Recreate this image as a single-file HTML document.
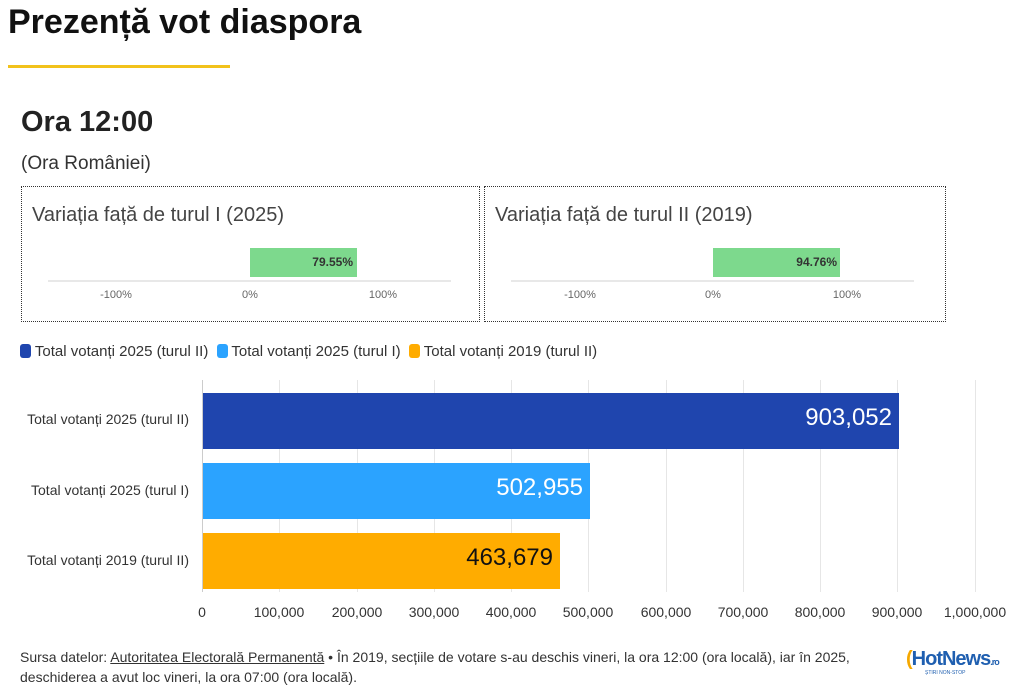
<!DOCTYPE html>
<html><head><meta charset="utf-8"><style>
body{margin:0;width:1024px;height:689px;background:#fff;position:relative;overflow:hidden;font-family:"Liberation Sans",sans-serif;color:#222}
.a{position:absolute;white-space:nowrap}
.n{font-family:"Liberation Sans Narrow","Liberation Sans",sans-serif}
.box{position:absolute;border:1px dotted #333;top:186px;height:134px}
.tk{position:absolute;font-size:11px;color:#666;transform:translateX(-50%)}
.grid{position:absolute;top:380px;width:1px;height:212px;background:#e6e6e6}
.xl{position:absolute;top:604px;font-size:14px;color:#333;transform:translateX(-50%)}
</style></head><body>
<div class="a" style="left:8px;top:3px;font-size:34px;font-weight:bold;color:#111">Prezență vot diaspora</div>
<div class="a" style="left:8px;top:65px;width:222px;height:3px;background:#f2c21b"></div>
<div class="a n" style="left:21px;top:106px;font-size:29px;font-weight:bold;color:#222">Ora 12:00</div>
<div class="a n" style="left:21px;top:153px;font-size:19px;color:#333">(Ora României)</div>

<div class="box" style="left:21px;width:457px"></div>
<div class="box" style="left:484px;width:460px"></div>
<div class="a" style="left:32px;top:204px;font-size:20px;color:#444">Variația față de turul I (2025)</div>
<div class="a" style="left:495px;top:204px;font-size:20px;color:#444">Variația față de turul II (2019)</div>
<div class="a" style="left:48px;top:280px;width:403px;height:2px;background:#e8e8e8"></div>
<div class="a" style="left:511px;top:280px;width:403px;height:2px;background:#e8e8e8"></div>
<div class="a" style="left:250px;top:248px;width:107px;height:29px;background:#7dd98d"></div>
<div class="a" style="left:713px;top:248px;width:127px;height:29px;background:#7dd98d"></div>
<div class="a" style="left:300px;top:255px;width:53px;text-align:right;font-size:12px;font-weight:bold;color:#333">79.55%</div>
<div class="a" style="left:780px;top:255px;width:57px;text-align:right;font-size:12px;font-weight:bold;color:#333">94.76%</div>
<div class="tk" style="left:116px;top:289px">-100%</div><div class="tk" style="left:250px;top:289px">0%</div><div class="tk" style="left:383px;top:289px">100%</div>
<div class="tk" style="left:580px;top:289px">-100%</div><div class="tk" style="left:713px;top:289px">0%</div><div class="tk" style="left:847px;top:289px">100%</div>

<div class="a n" style="left:20px;top:343px;font-size:15px;color:#333">
<span style="display:inline-block;width:11px;height:14px;border-radius:3px;background:#1f45ae;vertical-align:-2px"></span> Total votanți 2025 (turul II)
<span style="display:inline-block;width:11px;height:14px;border-radius:3px;background:#2ba3ff;vertical-align:-2px;margin-left:4px"></span> Total votanți 2025 (turul I)
<span style="display:inline-block;width:11px;height:14px;border-radius:3px;background:#ffac00;vertical-align:-2px;margin-left:4px"></span> Total votanți 2019 (turul II)</div>

<div class="grid" style="left:202px;background:#ccc"></div>
<div class="grid" style="left:279px"></div><div class="grid" style="left:357px"></div><div class="grid" style="left:434px"></div><div class="grid" style="left:511px"></div><div class="grid" style="left:588px"></div><div class="grid" style="left:666px"></div><div class="grid" style="left:743px"></div><div class="grid" style="left:820px"></div><div class="grid" style="left:897px"></div><div class="grid" style="left:975px"></div>

<div class="a" style="left:203px;top:393px;width:696px;height:56px;background:#1f45ae"></div>
<div class="a" style="left:203px;top:463px;width:387px;height:56px;background:#2ba3ff"></div>
<div class="a" style="left:203px;top:533px;width:357px;height:56px;background:#ffac00"></div>
<div class="a n" style="left:700px;top:404px;width:192px;text-align:right;font-size:24px;color:#fff">903,052</div>
<div class="a n" style="left:390px;top:474px;width:193px;text-align:right;font-size:24px;color:#fff">502,955</div>
<div class="a n" style="left:360px;top:544px;width:193px;text-align:right;font-size:24px;color:#111">463,679</div>
<div class="a n" style="left:0;top:411px;width:189px;text-align:right;font-size:14px;color:#333">Total votanți 2025 (turul II)</div>
<div class="a n" style="left:0;top:482px;width:189px;text-align:right;font-size:14px;color:#333">Total votanți 2025 (turul I)</div>
<div class="a n" style="left:0;top:552px;width:189px;text-align:right;font-size:14px;color:#333">Total votanți 2019 (turul II)</div>

<div class="xl n" style="left:202px">0</div><div class="xl n" style="left:279px">100,000</div><div class="xl n" style="left:357px">200,000</div><div class="xl n" style="left:434px">300,000</div><div class="xl n" style="left:511px">400,000</div><div class="xl n" style="left:588px">500,000</div><div class="xl n" style="left:666px">600,000</div><div class="xl n" style="left:743px">700,000</div><div class="xl n" style="left:820px">800,000</div><div class="xl n" style="left:897px">900,000</div><div class="xl n" style="left:975px">1,000,000</div>

<div class="a n" style="left:20px;top:647px;font-size:14px;line-height:20px;color:#333">Sursa datelor: <u>Autoritatea Electorală Permanentă</u> • În 2019, secțiile de votare s-au deschis vineri, la ora 12:00 (ora locală), iar în 2025,<br>deschiderea a avut loc vineri, la ora 07:00 (ora locală).</div>
<div class="a" style="left:906px;top:648px;font-size:20px;font-weight:bold;color:#1f5fb0;letter-spacing:-1px"><span style="color:#f5a800">(</span>HotNews<span style="font-size:9px">.ro</span></div>
<div class="a" style="left:925px;top:670px;font-size:5px;color:#1f5fb0">ȘTIRI NON-STOP</div>
</body></html>
